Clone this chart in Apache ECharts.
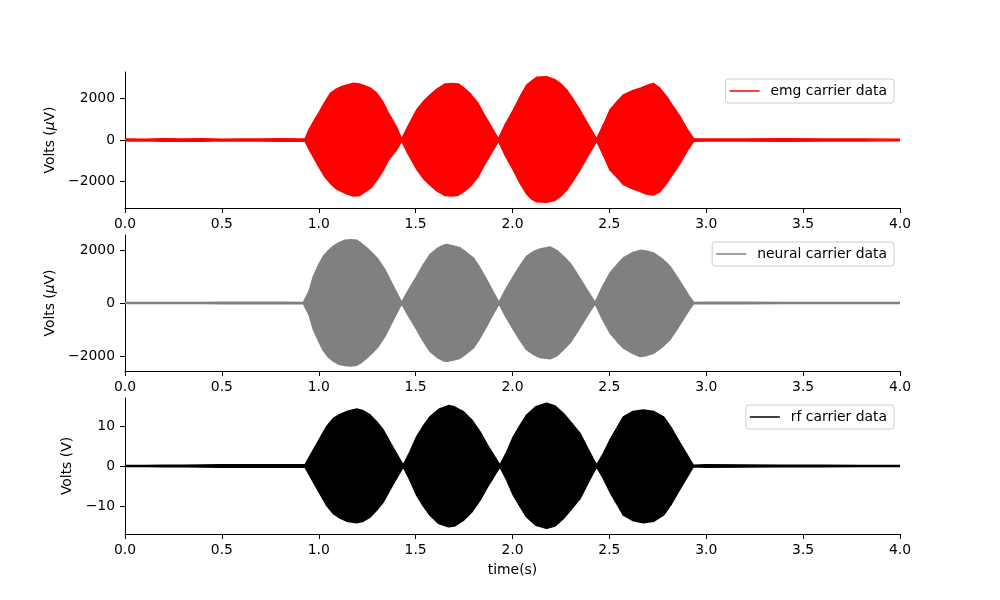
<!DOCTYPE html>
<html>
<head>
<meta charset="utf-8">
<script src="https://cdn.jsdelivr.net/npm/echarts@6/dist/echarts.min.js"></script>
<style>html,body{margin:0;padding:0;background:#fff}#c{width:1000px;height:600px}</style>
</head>
<body>
<div id="c"></div>
<script>
// ---- Data (envelope of the carrier signals) ----
const xTicks = [0, 0.5, 1, 1.5, 2, 2.5, 3, 3.5, 4];

const emgTime  = [0,0.1,0.2,0.3,0.4,0.5,0.6,0.7,0.8,0.9,0.93,0.95,0.98,1.0,1.03,1.06,1.09,1.12,1.15,1.18,1.21,1.24,1.27,1.30,1.33,1.36,1.40,1.428,
                  1.46,1.505,1.54,1.574,1.61,1.652,1.69,1.72,1.75,1.78,1.82,1.85,1.89,1.927,
                  1.96,2.004,2.04,2.073,2.10,2.125,2.176,2.22,2.25,2.28,2.31,2.348,2.39,2.434,
                  2.47,2.503,2.54,2.572,2.62,2.658,2.69,2.727,2.76,2.796,2.83,2.865,2.90,2.935,
                  3.0,3.2,3.4,3.6,3.8,4.0];
const emgUpper = [50,40,60,45,55,40,50,45,55,50,60,500,1000,1300,1800,2250,2450,2580,2660,2730,2700,2600,2480,2250,1850,1300,650,50,
                  650,1446,1850,2170,2450,2700,2720,2700,2500,2250,1800,1285,650,50,
                  700,1446,2100,2650,2850,3020,3050,2900,2700,2410,2000,1446,750,50,
                  750,1446,1850,2170,2380,2490,2620,2730,2500,2090,1600,1125,550,60,
                  50,45,55,45,50,40];
const emgLower = [-50,-40,-60,-45,-55,-40,-50,-45,-55,-50,-60,-450,-950,-1285,-1750,-2090,-2350,-2490,-2620,-2700,-2680,-2490,-2300,-1930,-1500,-965,-500,-50,
                  -650,-1400,-1850,-2170,-2450,-2680,-2700,-2660,-2480,-2250,-1800,-1285,-650,-50,
                  -700,-1446,-2100,-2600,-2850,-2980,-3000,-2900,-2700,-2410,-2000,-1446,-750,-50,
                  -750,-1446,-1800,-2150,-2350,-2470,-2600,-2650,-2500,-2090,-1600,-1125,-550,-60,
                  -50,-45,-55,-45,-50,-40];

const neuTime  = [0,0.1,0.2,0.3,0.4,0.5,0.6,0.7,0.8,0.92,0.95,0.972,1.0,1.024,1.05,1.075,1.105,1.135,1.165,1.196,1.22,1.247,1.277,1.307,1.34,1.368,1.40,1.428,
                  1.46,1.505,1.54,1.574,1.61,1.64,1.66,1.70,1.729,1.76,1.798,1.83,1.867,1.90,1.93,
                  1.96,2.004,2.04,2.073,2.11,2.142,2.194,2.23,2.262,2.30,2.331,2.38,2.426,
                  2.46,2.503,2.54,2.572,2.62,2.658,2.69,2.727,2.77,2.813,2.85,2.881,2.91,2.935,
                  3.0,3.2,3.4,3.6,3.8,4.0];
const neuUpper = [15,15,18,20,22,25,25,25,25,20,450,1000,1450,1765,1980,2145,2280,2375,2390,2375,2250,2085,1880,1640,1280,876,420,20,
                  450,1000,1450,1830,2050,2170,2210,2150,2085,1920,1700,1350,876,420,20,
                  450,1000,1420,1765,1950,2040,2115,1980,1765,1480,1130,550,20,
                  550,1130,1450,1700,1900,1990,1970,1890,1680,1385,980,620,280,20,
                  25,25,20,18,15,15];
const neuLower = [-15,-15,-18,-20,-22,-25,-25,-25,-25,-20,-450,-1000,-1450,-1800,-2050,-2200,-2320,-2360,-2380,-2350,-2250,-2085,-1880,-1640,-1280,-876,-420,-20,
                  -450,-1000,-1450,-1830,-2050,-2170,-2210,-2150,-2085,-1920,-1700,-1350,-876,-420,-20,
                  -450,-1000,-1420,-1765,-1950,-2060,-2110,-1990,-1765,-1480,-1130,-550,-20,
                  -550,-1130,-1450,-1700,-1900,-2020,-1990,-1900,-1680,-1385,-980,-620,-280,-20,
                  -25,-25,-20,-18,-15,-15];

const rfTime  = [0,0.1,0.2,0.3,0.4,0.5,0.6,0.7,0.8,0.9,0.929,0.96,1.006,1.04,1.075,1.11,1.144,1.196,1.23,1.265,1.30,1.333,1.385,1.436,
                 1.47,1.505,1.54,1.574,1.62,1.669,1.70,1.746,1.79,1.832,1.88,1.935,
                 1.97,2.004,2.04,2.073,2.12,2.176,2.22,2.262,2.30,2.348,2.39,2.434,
                 2.47,2.503,2.54,2.572,2.62,2.675,2.73,2.779,2.82,2.865,2.933,
                 3.0,3.2,3.4,3.6,3.8,4.0];
const rfUpper = [0.15,0.15,0.2,0.2,0.25,0.3,0.3,0.3,0.3,0.3,0.3,3.0,6.9,9.8,11.9,12.9,13.6,14.25,13.8,12.75,11.0,9.0,4.5,0.2,
                 3.5,7.3,10.0,12.3,14.2,15.1,14.8,13.6,11.5,8.6,4.5,0.2,
                 3.5,7.3,10.2,12.75,14.8,15.7,15.0,13.2,11.0,8.2,4.2,0.2,
                 3.2,6.5,9.6,12.3,13.6,14.0,13.6,12.3,9.5,5.7,0.2,
                 0.3,0.25,0.2,0.2,0.15,0.15];
const rfLower = [-0.15,-0.15,-0.2,-0.2,-0.25,-0.3,-0.3,-0.3,-0.3,-0.3,-0.3,-3.0,-6.9,-9.8,-11.9,-13.0,-13.8,-14.2,-13.8,-12.75,-11.0,-9.0,-4.5,-0.2,
                 -3.5,-7.3,-10.0,-12.3,-14.4,-15.2,-15.0,-13.6,-11.5,-8.6,-4.5,-0.2,
                 -3.5,-7.3,-10.2,-12.75,-14.8,-15.6,-15.0,-13.2,-11.0,-8.2,-4.2,-0.2,
                 -3.2,-6.5,-9.6,-12.3,-13.6,-14.2,-13.8,-12.3,-9.5,-5.7,-0.2,
                 -0.3,-0.25,-0.2,-0.2,-0.15,-0.15];

const yTicks1 = [-2000, 0, 2000];
const yTicks2 = [-2000, 0, 2000];
const yTicks3 = [-10, 0, 10];
const yRange1 = [-3277, 3277];
const yRange2 = [-2570, 2570];
const yRange3 = [-17, 17];

const names = ['emg carrier data', 'neural carrier data', 'rf carrier data'];
const colors = ['#ff0000', '#808080', '#000000'];

// ---- Chart ----
const FONT = 'DejaVu Sans';
const FS = 13.9;
const pairs = (t, v) => t.map((x, i) => [x, v[i]]);
const minus = v => String(v).replace('-', '\u2212');

const tops = [72, 235, 398];
const grids = tops.map(t => ({left: 125, width: 775, top: t, height: 136}));

function xAxis(i) {
  return {
    type: 'value', gridIndex: i, min: 0, max: 4, interval: 0.5,
    axisLine: {show: true, onZero: false, lineStyle: {color: '#000', width: 1}},
    axisTick: {show: true, length: 5, lineStyle: {color: '#000', width: 1}},
    axisLabel: {color: '#000', fontFamily: FONT, fontSize: FS, margin: 9,
      showMinLabel: true, showMaxLabel: true, formatter: v => v.toFixed(1)},
    splitLine: {show: false},
    name: i === 2 ? 'time(s)' : '', nameLocation: 'middle', nameGap: 29,
    nameTextStyle: {color: '#000', fontFamily: FONT, fontSize: FS}
  };
}
function yAxis(i, range, ticks, name, gap) {
  return {
    type: 'value', gridIndex: i, min: range[0], max: range[1],
    axisLine: {show: true, onZero: false, lineStyle: {color: '#000', width: 1}},
    axisTick: {show: true, length: 5, customValues: ticks, lineStyle: {color: '#000', width: 1}},
    axisLabel: {color: '#000', fontFamily: FONT, fontSize: FS, margin: 10,
      customValues: ticks, formatter: v => minus(v)},
    splitLine: {show: false},
    name: name, nameLocation: 'middle', nameRotate: 90, nameGap: gap,
    nameTextStyle: {color: '#000', fontFamily: FONT, fontSize: FS,
      rich: {m: {fontStyle: 'italic', fontFamily: FONT, fontSize: FS, color: '#000'}}}
  };
}
function band(i, t, v, seriesName) {
  return {
    type: 'line', name: seriesName, xAxisIndex: i, yAxisIndex: i,
    data: pairs(t, v), symbol: 'none', showSymbol: false, smooth: false,
    lineStyle: {color: colors[i], width: 1.5},
    itemStyle: {color: colors[i]},
    areaStyle: {color: colors[i], opacity: 1, origin: 0},
    z: 2
  };
}
function legend(top, right, name) {
  return {
    top: top, right: right, orient: 'vertical',
    data: [{name: name, icon: 'path://M0,0H30V1.5H0Z'}],
    itemWidth: 30, itemHeight: 14, padding: [5, 7, 5, 4],
    backgroundColor: 'rgba(255,255,255,0.8)', borderColor: '#cccccc', borderWidth: 1, borderRadius: 3,
    textStyle: {color: '#000', fontFamily: FONT, fontSize: FS, padding: [0, 0, 0, 6]},
    selectedMode: false
  };
}

const chart = echarts.init(document.getElementById('c'), null, {renderer: 'canvas'});
chart.setOption({
  animation: false,
  backgroundColor: '#fff',
  grid: grids,
  xAxis: [xAxis(0), xAxis(1), xAxis(2)],
  yAxis: [
    yAxis(0, yRange1, yTicks1, 'Volts ({m|\u03bc}V)', 59),
    yAxis(1, yRange2, yTicks2, 'Volts ({m|\u03bc}V)', 59),
    yAxis(2, yRange3, yTicks3, 'Volts (V)', 39)
  ],
  legend: [legend(79, 106, names[0]), legend(242, 106, names[1]), legend(405, 106, names[2])],
  series: [
    band(0, emgTime, emgUpper, names[0]),
    band(0, emgTime, emgLower, 'emg lower'),
    band(1, neuTime, neuUpper, names[1]),
    band(1, neuTime, neuLower, 'neural lower'),
    band(2, rfTime, rfUpper, names[2]),
    band(2, rfTime, rfLower, 'rf lower')
  ]
});
</script>
</body>
</html>
